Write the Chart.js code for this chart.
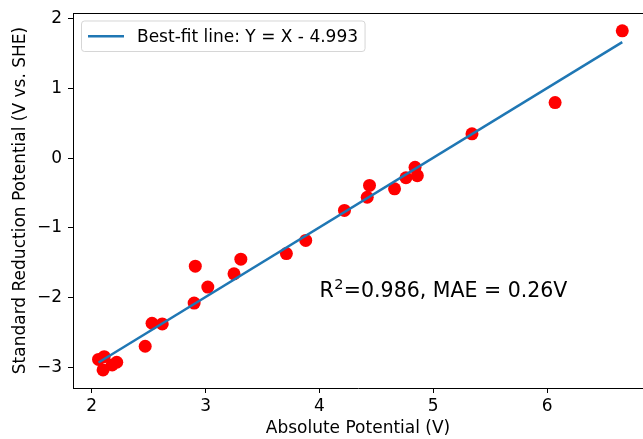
<!DOCTYPE html>
<html>
<head>
<meta charset="utf-8">
<script src="https://cdn.jsdelivr.net/npm/chart.js@4/dist/chart.umd.min.js"></script>
<style>
  html, body { margin: 0; padding: 0; background: #fff; }
  #wrap { width: 643px; height: 439px; }
</style>
</head>
<body>
<div id="wrap"><canvas id="chart" width="643" height="439"></canvas></div>
<script>
// ── data ──
var absPotential = [2.06, 2.11, 2.10, 2.18, 2.22, 2.47, 2.53, 2.62, 2.90, 2.91, 3.02, 3.25, 3.31,
                    3.71, 3.88, 4.22, 4.42, 4.44, 4.66, 4.76, 4.84, 4.86, 5.34, 6.07, 6.66];
var redPotential = [-2.89, -2.85, -3.04, -2.97, -2.93, -2.70, -2.37, -2.38, -2.08, -1.55, -1.85, -1.66, -1.45,
                    -1.37, -1.18, -0.75, -0.56, -0.39, -0.44, -0.28, -0.13, -0.25, 0.35, 0.80, 1.83];
// best-fit line Y = X - 4.993, end points
var fitX = [2.06, 6.66];
var fitY = [-2.933, 1.667];
var xTicks = [2, 3, 4, 5, 6];
var yTicks = [-3, -2, -1, 0, 1, 2];
var legendLabel = 'Best-fit line: Y = X - 4.993';
var statsLabel = ['R', '2', '=0.986, MAE = 0.26V'];

var FONT = 'DejaVu Sans';
var BLUE = '#1f77b4';

function pts(xs, ys) {
  return xs.map(function(x, i) { return { x: x, y: ys[i] }; });
}

function fmtTick(v) {
  return v < 0 ? '\u2212' + Math.abs(v) : String(v);
}

// ── frame (top spine), legend box, stats text ──
var extras = {
  id: 'extras',
  afterDatasetsDraw: function(chart) {
    var ctx = chart.ctx;
    var a = chart.chartArea;
    var xs = chart.scales.x, ys = chart.scales.y;
    ctx.save();
    // top spine
    ctx.strokeStyle = '#000';
    ctx.lineWidth = 1;
    ctx.beginPath();
    ctx.moveTo(a.left, a.top + 0.5);
    ctx.lineTo(a.right, a.top + 0.5);
    ctx.stroke();

    // legend
    ctx.font = '17px "' + FONT + '"';
    var tw = ctx.measureText(legendLabel).width;
    var bx = a.left + 8.5, by = a.top + 8, bh = 30.5;
    var bw = (137 - bx) + tw + 7;
    ctx.beginPath();
    ctx.roundRect(bx, by, bw, bh, 3);
    ctx.fillStyle = 'rgba(255,255,255,0.8)';
    ctx.fill();
    ctx.strokeStyle = 'rgba(204,204,204,0.8)';
    ctx.stroke();
    ctx.strokeStyle = BLUE;
    ctx.lineWidth = 2.5;
    ctx.beginPath();
    ctx.moveTo(bx + 6.5, by + bh / 2);
    ctx.lineTo(bx + 42.5, by + bh / 2);
    ctx.stroke();
    ctx.fillStyle = '#000';
    ctx.textBaseline = 'middle';
    ctx.fillText(legendLabel, 137, by + bh / 2 + 1);

    // stats annotation at data (4.0, -2.0), R with a mathtext-like superscript
    var tx = xs.getPixelForValue(4.0), ty = ys.getPixelForValue(-2.0);
    ctx.textBaseline = 'alphabetic';
    ctx.font = '20.5px "' + FONT + '"';
    ctx.fillText(statsLabel[0], tx, ty);
    tx += ctx.measureText(statsLabel[0]).width + 0.5;
    ctx.font = '14.5px "' + FONT + '"';
    ctx.fillText(statsLabel[1], tx, ty - 8);
    tx += ctx.measureText(statsLabel[1]).width + 0.5;
    ctx.font = '20.5px "' + FONT + '"';
    ctx.fillText(statsLabel[2], tx, ty);
    ctx.restore();
  }
};

Chart.defaults.font.family = FONT;
Chart.defaults.font.size = 17;
Chart.defaults.color = '#000';

new Chart(document.getElementById('chart').getContext('2d'), {
  type: 'scatter',
  data: {
    datasets: [{
      label: legendLabel,
      data: pts(fitX, fitY),
      showLine: true,
      borderColor: BLUE,
      borderWidth: 2.5,
      pointRadius: 0,
      fill: false
    }, {
      label: 'data',
      data: pts(absPotential, redPotential),
      backgroundColor: '#ff0000',
      borderWidth: 0,
      pointRadius: 6.5
    }]
  },
  options: {
    responsive: false,
    animation: false,
    layout: { autoPadding: false, padding: { top: 13, right: 0, left: 0, bottom: 0 } },
    plugins: { legend: { display: false }, tooltip: { enabled: false } },
    scales: {
      x: {
        type: 'linear', min: 1.836, max: 6.842,
        afterBuildTicks: function(s) { s.ticks = xTicks.map(function(v) { return { value: v }; }); },
        afterFit: function(s) { s.height = 51; s.paddingLeft = 0; s.paddingRight = 0; },
        ticks: { padding: 3, callback: fmtTick, maxRotation: 0 },
        grid: { drawOnChartArea: false, drawTicks: true, tickLength: 5, color: '#000' },
        border: { display: true, color: '#000', width: 1 },
        title: { display: true, text: 'Absolute Potential (V)', padding: { top: 0, bottom: 0 } }
      },
      y: {
        type: 'linear', min: -3.30, max: 2.086,
        afterBuildTicks: function(s) { s.ticks = yTicks.map(function(v) { return { value: v }; }); },
        afterFit: function(s) { s.width = 73; s.paddingTop = 0; s.paddingBottom = 0; },
        ticks: { padding: 6, callback: fmtTick },
        grid: { drawOnChartArea: false, drawTicks: true, tickLength: 5, color: '#000' },
        border: { display: true, color: '#000', width: 1 },
        title: { display: true, text: 'Standard Reduction Potential (V vs. SHE)', padding: { top: 10, bottom: 0 } }
      }
    }
  },
  plugins: [extras]
});
</script>
</body>
</html>
